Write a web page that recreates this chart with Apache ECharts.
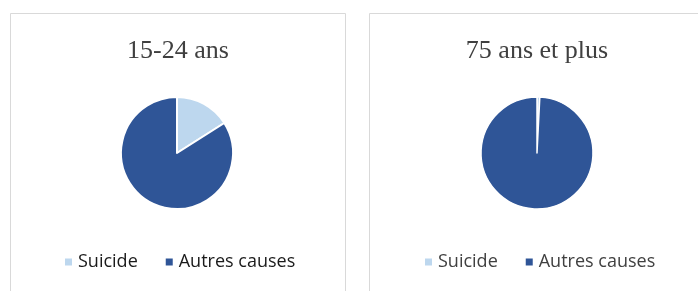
<!DOCTYPE html>
<html>
<head>
<meta charset="utf-8">
<script src="https://cdn.jsdelivr.net/npm/echarts@6/dist/echarts.min.js"></script>
<style>
  html, body { margin: 0; padding: 0; background: #fff; }
  #graf { width: 698px; height: 291px; }
</style>
</head>
<body>
<div id="graf"></div>
<script>
// Datos
var categorias = ["Suicide", "Autres causes"];
var titulos = ["15-24 ans", "75 ans et plus"];
var jovenes = [16, 84];
var mayores = [0.8, 99.2];
var colores = ["#BDD7EE", "#2F5597"];

var myChart = echarts.init(document.getElementById("graf"));

function datosPie(valores) {
  return categorias.map(function (c, i) {
    return { name: c, value: valores[i] };
  });
}

var estiloTitulo = { fontFamily: "Liberation Serif", fontWeight: "normal", fontSize: 26, color: "#404040" };

var option = {
  color: colores,
  animation: false,
  graphic: [
    { type: "rect", shape: { x: 10.5, y: 13.5, width: 335, height: 300 },
      style: { fill: "#fff", stroke: "#d9d9d9", lineWidth: 1 } },
    { type: "rect", shape: { x: 369.5, y: 13.5, width: 340, height: 300 },
      style: { fill: "#fff", stroke: "#d9d9d9", lineWidth: 1 } }
  ],
  title: [
    { text: titulos[0], left: 173, top: 33, textAlign: "center", textStyle: estiloTitulo },
    { text: titulos[1], left: 532, top: 33, textAlign: "center", textStyle: estiloTitulo }
  ],
  legend: [
    { data: categorias, left: 58, top: 248, itemWidth: 9, itemHeight: 9, itemGap: 26,
      icon: "rect", selectedMode: false,
      textStyle: { fontFamily: "Open Sans", fontSize: 18, color: "#1a1a1a" } },
    { data: categorias, left: 418, top: 248, itemWidth: 9, itemHeight: 9, itemGap: 26,
      icon: "rect", selectedMode: false,
      textStyle: { fontFamily: "Open Sans", fontSize: 18, color: "#404040" } }
  ],
  series: [
    {
      name: titulos[0], type: "pie", radius: 56, center: [177, 153],
      startAngle: 90, clockwise: true, label: { show: false }, labelLine: { show: false },
      itemStyle: { borderColor: "#fff", borderWidth: 2 },
      emphasis: { disabled: true },
      data: datosPie(jovenes)
    },
    {
      name: titulos[1], type: "pie", radius: 56, center: [537, 153],
      startAngle: 90, clockwise: true, label: { show: false }, labelLine: { show: false },
      itemStyle: { borderColor: "#fff", borderWidth: 1.5 },
      emphasis: { disabled: true },
      data: datosPie(mayores)
    }
  ]
};

myChart.setOption(option);
</script>
</body>
</html>
